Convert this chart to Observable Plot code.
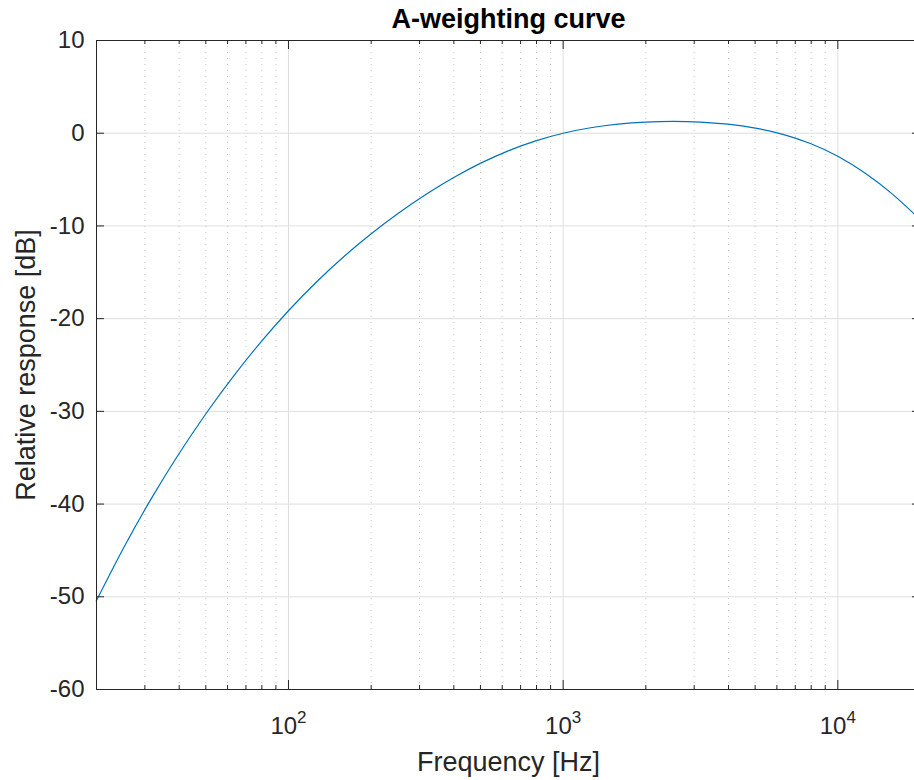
<!DOCTYPE html>
<html>
<head>
<meta charset="utf-8">
<script src="https://cdn.jsdelivr.net/npm/d3@7"></script>
<script src="https://cdn.jsdelivr.net/npm/@observablehq/plot@0.6"></script>
<style>
  body { margin: 0; background: #fff; }
</style>
</head>
<body>
<div id="chart"></div>
<script>
// A-weighting response at the one-third-octave band centres (Hz, dB)
const frequencies = [19.953, 25.119, 31.623, 39.811, 50.119, 63.096, 79.433, 100, 125.89, 158.49,
  199.53, 251.19, 316.23, 398.11, 501.19, 630.96, 794.33, 1000, 1258.9, 1584.9,
  1995.3, 2511.9, 3162.3, 3981.1, 5011.9, 6309.6, 7943.3, 10000, 12589, 15849, 19953];
const responseDb = [-50.46, -44.71, -39.44, -34.63, -30.23, -26.20, -22.51, -19.15, -16.10, -13.35,
  -10.87, -8.63, -6.61, -4.81, -3.23, -1.90, -0.82, 0.00, 0.59, 0.98,
  1.20, 1.27, 1.20, 0.97, 0.55, -0.12, -1.11, -2.49, -4.32, -6.60, -9.32];

// Axis ticks
const majorFreqTicks = [100, 1000, 10000];
const minorFreqTicks = [20, 30, 40, 50, 60, 70, 80, 90,
  200, 300, 400, 500, 600, 700, 800, 900,
  2000, 3000, 4000, 5000, 6000, 7000, 8000, 9000];
const dbTicks = [-60, -50, -40, -30, -20, -10, 0, 10];

const titleText = "A-weighting curve";
const xLabel = "Frequency [Hz]";
const yLabel = "Relative response [dB]";

const rows = frequencies.map((f, i) => ({f, db: responseDb[i]}));

const W = 914, H = 780;
const mL = 96, mR = -6, mT = 40, mB = 91;
const frameW = W - mL - mR, frameH = H - mT - mB;
const ink = "#262626";

const chart = Plot.plot({
  width: W,
  height: H,
  marginLeft: mL,
  marginRight: mR,
  marginTop: mT,
  marginBottom: mB,
  style: {fontFamily: '"Liberation Sans", Arial, Helvetica, sans-serif', color: ink, background: "#fff", overflow: "hidden"},
  x: {type: "log", domain: [20, 20000]},
  y: {domain: [-60, 10]},
  marks: [
    // grid
    Plot.ruleX(minorFreqTicks, {stroke: "#c4c4c4", strokeDasharray: "1,5"}),
    Plot.ruleX(majorFreqTicks, {stroke: "#dedede"}),
    Plot.ruleY(dbTicks, {stroke: "#dedede"}),
    // response curve
    Plot.line(rows, {x: "f", y: "db", stroke: "#0072BD", strokeWidth: 1.2, curve: "natural"}),
    // axes box
    Plot.ruleY([-60, 10], {stroke: ink}),
    Plot.ruleX([20, 20000], {stroke: ink}),
    // inward ticks on all four sides
    Plot.ruleX(majorFreqTicks, {stroke: ink, insetTop: frameH - 9}),
    Plot.ruleX(majorFreqTicks, {stroke: ink, insetBottom: frameH - 9}),
    Plot.ruleX(minorFreqTicks, {stroke: ink, insetTop: frameH - 4}),
    Plot.ruleX(minorFreqTicks, {stroke: ink, insetBottom: frameH - 4}),
    Plot.ruleY(dbTicks, {stroke: ink, insetRight: frameW - 8}),
    Plot.ruleY(dbTicks, {stroke: ink, insetLeft: frameW - 8}),
    // tick labels
    Plot.axisX(majorFreqTicks, {tickSize: 0, tickPadding: 27, fontSize: 24, label: null,
      tickFormat: d => `10^${Math.round(Math.log10(d))}`}),
    Plot.axisY(dbTicks, {tickSize: 0, tickPadding: 12, fontSize: 24, label: null, tickFormat: d => String(d)}),
    // title and axis labels
    Plot.text([titleText], {frameAnchor: "top", textAnchor: "middle", lineAnchor: "bottom", dy: -13,
      fontSize: 27, fontWeight: "bold", fill: "#000"}),
    Plot.text([xLabel], {frameAnchor: "bottom", textAnchor: "middle", lineAnchor: "bottom", dy: 81,
      fontSize: 27, fill: ink}),
    Plot.text([yLabel], {frameAnchor: "left", textAnchor: "middle", lineAnchor: "bottom", rotate: -90, dx: -62,
      fontSize: 27, fill: ink})
  ]
});

// Render the decade labels as a base with a raised exponent
d3.select(chart).selectAll('g[aria-label="x-axis tick label"] text').each(function () {
  const [base, exp] = this.textContent.split("^");
  const t = d3.select(this);
  t.text(null);
  t.append("tspan").text(base);
  t.append("tspan").attr("dy", -11).attr("font-size", 17).text(exp);
});

document.getElementById("chart").append(chart);
</script>
</body>
</html>
